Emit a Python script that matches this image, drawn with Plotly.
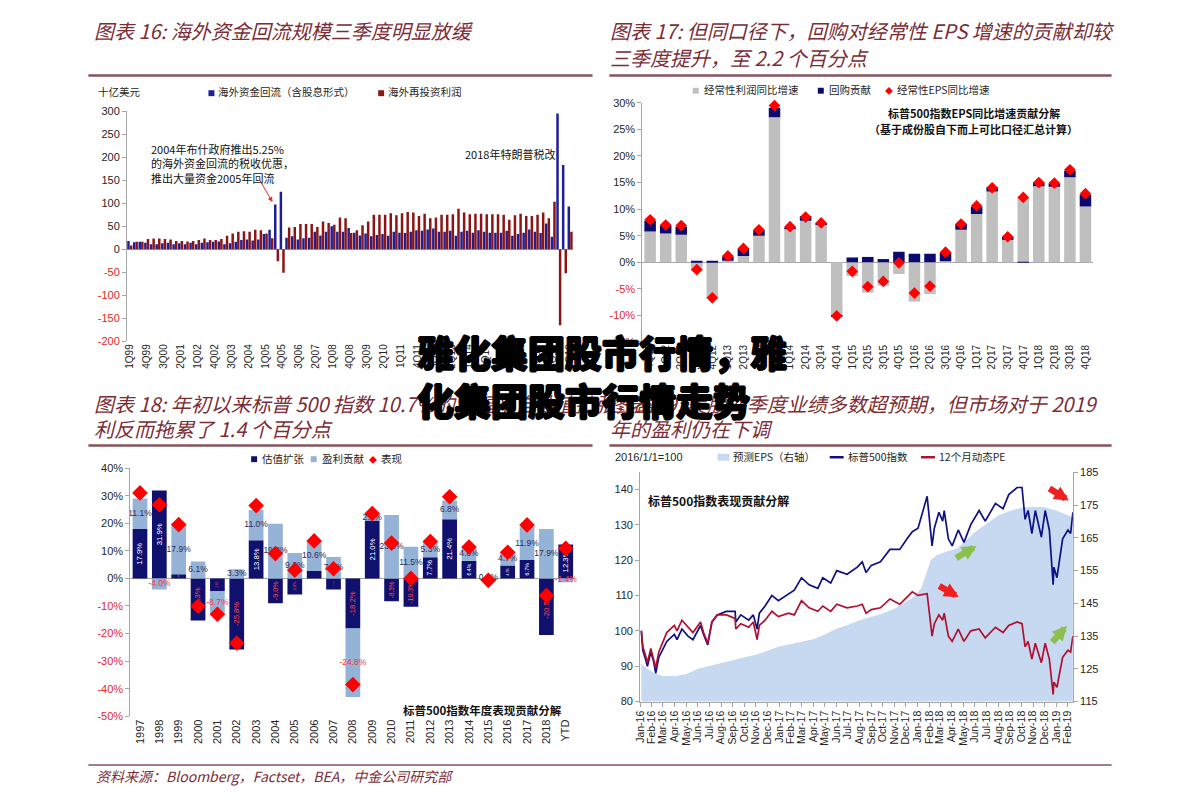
import plotly.graph_objects as go

W, H = 1191, 811
def fx(x): return x / W
def fy(y): return 1 - y / H

CN = "Noto Sans CJK SC"
NUM = "Liberation Sans, Arial, sans-serif"
TITLE_C = "#7B2D36"
TICK_C = "#262626"
AX_C = "#A6A6A6"
NEG_C = "#E02828"

# ---------------- Chart 16 data (十亿美元) ----------------
q1_labels = [
    "1Q99", "2Q99", "3Q99", "4Q99", "1Q00", "2Q00", "3Q00", "4Q00",
    "1Q01", "2Q01", "3Q01", "4Q01", "1Q02", "2Q02", "3Q02", "4Q02",
    "1Q03", "2Q03", "3Q03", "4Q03", "1Q04", "2Q04", "3Q04", "4Q04",
    "1Q05", "2Q05", "3Q05", "4Q05", "1Q06", "2Q06", "3Q06", "4Q06",
    "1Q07", "2Q07", "3Q07", "4Q07", "1Q08", "2Q08", "3Q08", "4Q08",
    "1Q09", "2Q09", "3Q09", "4Q09", "1Q10", "2Q10", "3Q10", "4Q10",
    "1Q11", "2Q11", "3Q11", "4Q11", "1Q12", "2Q12", "3Q12", "4Q12",
    "1Q13", "2Q13", "3Q13", "4Q13", "1Q14", "2Q14", "3Q14", "4Q14",
    "1Q15", "2Q15", "3Q15", "4Q15", "1Q16", "2Q16", "3Q16", "4Q16",
    "1Q17", "2Q17", "3Q17", "4Q17", "1Q18", "2Q18", "3Q18",
]
repatriation = [
    18, 15, 16, 14, 11, 11, 13, 14,
    11, 13, 11, 14, 11, 14, 15, 16,
    17, 11, 13, 16, 20, 21, 19, 21,
    33, 42, 97, 125, 25, 28, 21, 24,
    25, 38, 30, 38, 50, 38, 38, 46,
    36, 30, 34, 28, 31, 33, 29, 38,
    36, 35, 38, 41, 40, 43, 45, 38,
    38, 40, 29, 38, 40, 36, 41, 38,
    36, 36, 36, 40, 29, 33, 36, 43,
    38, 35, 56, 27, 295, 183, 93,
]
reinvested = [
    8, 16, 16, 22, 23, 23, 22, 21,
    18, 18, 17, 18, 20, 23, 20, 20,
    22, 29, 34, 38, 39, 38, 42, 41,
    34, 24, -26, -51, 47, 48, 55, 55,
    55, 48, 60, 57, 53, 69, 67, 35,
    41, 52, 60, 75, 75, 75, 78, 74,
    78, 81, 80, 72, 77, 67, 69, 75,
    75, 76, 88, 80, 76, 77, 77, 76,
    76, 76, 75, 64, 74, 77, 72, 72,
    75, 80, 67, 103, -165, -52, 38,
]

# ---------------- Chart 17 data (%) ----------------
q2_labels = ["4Q11", "1Q12", "2Q12", "3Q12", "4Q12", "1Q13", "2Q13", "3Q13", "4Q13",
             "1Q14", "2Q14", "3Q14", "4Q14", "1Q15", "2Q15", "3Q15", "4Q15",
             "1Q16", "2Q16", "3Q16", "4Q16", "1Q17", "2Q17", "3Q17", "4Q17",
             "1Q18", "2Q18", "3Q18", "4Q18"]
profit_growth = [5.8, 5.4, 5.2, -1.6, -6.8, 0.3, 1.2, 5.0, 27.3, 6.2, 7.8, 7.0, -9.9,
                 -2.6, -5.7, -4.4, -2.2, -7.4, -6.0, 0.2, 6.1, 9.1, 13.3, 4.4, 12.3,
                 14.3, 14.2, 16.0, 10.5]
buyback_contrib = [2.0, 1.5, 1.5, 0.3, 0.2, 0.8, 1.4, 1.0, 1.8, 0.4, 0.9, 0.4, -0.2,
                   0.9, 1.0, 0.6, 2.0, 1.6, 1.6, 1.6, 1.1, 1.3, 0.8, 0.35, -0.1,
                   0.7, 0.6, 1.2, 2.2]
eps_growth = [8.0, 7.0, 6.9, -1.4, -6.7, 1.2, 2.6, 6.1, 29.5, 6.7, 8.5, 7.4, -10.1,
              -1.7, -4.6, -3.6, -0.1, -5.8, -4.5, 1.9, 7.2, 10.6, 14.0, 4.8, 12.2,
              15.0, 14.9, 17.4, 12.9]

# ---------------- Chart 18 data (%) ----------------
years3 = ["1997", "1998", "1999", "2000", "2001", "2002", "2003", "2004", "2005", "2006",
          "2007", "2008", "2009", "2010", "2011", "2012", "2013", "2014", "2015", "2016",
          "2017", "2018", "YTD"]
valuation = [17.9, 31.9, 1.5, -15.3, -4.6, -25.8, 13.8, -9.0, -5.8, 2.7, -4.0, -18.2,
             21.0, -8.3, -10.3, 7.7, 21.4, 6.4, -0.8, 4.7, 6.7, -20.5, 12.3]
earnings = [11.1, -4.0, 17.9, 6.1, -8.7, 3.3, 11.0, 19.8, 9.2, 10.6, 7.8, -24.8,
            2.1, 23.0, 11.5, 5.3, 6.8, 4.8, 0.1, 4.7, 11.9, 17.9, -1.4]
performance = [31.0, 26.7, 19.5, -10.1, -13.0, -23.4, 26.4, 9.0, 3.0, 13.6, 3.5, -38.5,
               23.5, 12.8, 0.0, 13.4, 29.6, 11.4, -0.7, 9.5, 19.4, -6.2, 10.9]

# ---------------- Chart 19 data (2016/1/1=100) ----------------
line_dates = [
    "2016-01-04", "2016-01-08", "2016-01-15", "2016-01-20", "2016-01-29", "2016-02-05",
    "2016-02-11", "2016-02-19", "2016-02-26", "2016-03-11", "2016-03-31", "2016-04-07",
    "2016-04-20", "2016-05-06", "2016-05-19", "2016-06-08", "2016-06-16", "2016-06-27",
    "2016-07-08", "2016-07-22", "2016-08-15", "2016-09-07", "2016-09-09", "2016-09-22",
    "2016-10-13", "2016-10-25", "2016-11-04", "2016-11-10", "2016-11-25", "2016-12-13",
    "2016-12-30", "2017-01-26", "2017-02-10", "2017-03-01", "2017-03-21", "2017-04-13",
    "2017-04-26", "2017-05-17", "2017-06-02", "2017-06-29", "2017-07-26", "2017-08-08",
    "2017-08-18", "2017-09-01", "2017-09-25", "2017-10-20", "2017-11-15", "2017-12-04",
    "2017-12-18", "2018-01-02", "2018-01-26", "2018-02-08", "2018-02-14", "2018-02-26",
    "2018-03-08", "2018-03-12", "2018-03-23", "2018-04-02", "2018-04-18", "2018-05-03",
    "2018-05-21", "2018-06-12", "2018-06-28", "2018-07-25", "2018-08-14", "2018-08-29",
    "2018-09-20", "2018-10-03", "2018-10-11", "2018-10-19", "2018-10-29", "2018-11-07",
    "2018-11-23", "2018-12-03", "2018-12-14", "2018-12-24", "2018-12-26", "2019-01-03",
    "2019-01-18", "2019-02-01", "2019-02-08", "2019-02-14",
]
spx_index = [
    100.0, 94.5, 92.0, 90.0, 94.0, 91.5, 88.0, 92.5, 94.0, 97.0, 99.0, 97.5,
    100.5, 98.5, 97.5, 101.5, 99.0, 96.0, 102.5, 104.5, 105.5, 105.5, 102.5, 104.5,
    103.0, 104.5, 100.5, 105.0, 107.0, 110.0, 108.5, 110.5, 111.5, 115.0, 113.0, 112.0,
    115.0, 113.5, 117.0, 116.0, 118.0, 119.5, 116.5, 118.5, 119.5, 123.0, 123.0, 126.0,
    128.0, 129.0, 138.0, 124.0, 129.0, 133.5, 131.0, 134.0, 126.0, 124.0, 128.5, 125.0,
    130.0, 134.0, 131.0, 136.0, 134.5, 138.5, 140.5, 140.5, 131.5, 134.0, 127.5, 134.0,
    126.5, 134.0, 128.5, 113.0, 118.0, 115.0, 126.0, 128.5, 127.5, 133.5,
]
pe_index = [
    100.0, 95.5, 93.0, 91.0, 95.0, 92.0, 89.5, 94.0, 96.0, 99.5, 101.5, 100.0,
    103.0, 101.0, 99.5, 102.5, 99.5, 96.5, 102.5, 104.5, 104.5, 103.5, 100.5, 102.0,
    101.0, 102.5, 97.5, 101.5, 103.0, 105.5, 104.0, 105.0, 104.5, 108.5, 106.5, 105.5,
    107.0, 105.5, 107.5, 106.5, 107.0, 107.5, 105.0, 106.0, 106.5, 109.0, 107.5, 109.5,
    111.0, 110.0, 110.5, 98.5, 102.0, 104.5, 103.0, 105.0, 98.5, 97.0, 100.5, 97.0,
    100.0, 100.5, 98.0, 101.0, 99.5, 101.5, 102.5, 102.0, 95.5, 97.0, 92.0, 96.5,
    91.0, 96.5, 92.0, 82.0, 85.5, 84.0, 92.5, 94.5, 94.0, 98.5,
]
eps_dates = [
    "2016-01-04", "2016-01-20", "2016-02-10", "2016-03-01", "2016-04-01", "2016-05-01",
    "2016-06-01", "2016-07-01", "2016-08-01", "2016-09-01", "2016-10-01", "2016-11-01",
    "2016-12-01", "2017-01-01", "2017-02-01", "2017-03-01", "2017-04-01", "2017-05-01",
    "2017-06-01", "2017-07-01", "2017-08-01", "2017-09-01", "2017-10-01", "2017-11-01",
    "2017-12-01", "2017-12-20", "2018-01-10", "2018-01-25", "2018-02-05", "2018-02-20",
    "2018-03-15", "2018-04-15", "2018-05-01", "2018-06-01", "2018-07-01", "2018-08-01",
    "2018-09-01", "2018-10-01", "2018-11-01", "2018-12-01", "2019-01-01", "2019-02-01",
    "2019-02-14",
]
eps_fwd = [
    126.5, 125.0, 123.5, 122.8, 122.8, 123.3, 125.0, 125.8, 126.6, 127.6, 128.5, 129.3,
    130.5, 131.8, 132.6, 133.2, 134.0, 135.5, 137.2, 138.4, 139.8, 140.9, 141.9, 143.3,
    145.3, 146.8, 149.5, 155.0, 158.3, 159.7, 160.7, 161.7, 163.5, 166.8, 169.2, 171.8,
    173.2, 174.2, 174.5, 174.3, 173.3, 171.8, 171.3,
]

# ---------------- colours ----------------
BLUE1, RED1 = "#1E1E96", "#8C1414"
GREY2, NAVY2, DIAM = "#BFBFBF", "#0A0A70", "#FF0000"
NAVY3, LIGHT3 = "#10106E", "#95B3D7"
EPS_FILL, SPX_C, PE_C = "#C6D9F0", "#101085", "#B01030"

fig = go.Figure()

# Chart 16
x1 = list(range(len(q1_labels)))
fig.add_trace(go.Bar(x=x1, y=repatriation, xaxis="x", yaxis="y", marker_color=BLUE1,
                     marker_line_width=0, width=0.44, offset=-0.46))
fig.add_trace(go.Bar(x=x1, y=reinvested, xaxis="x5", yaxis="y", marker_color=RED1,
                     marker_line_width=0, width=0.44, offset=0.0))

# Chart 17
x2 = list(range(len(q2_labels)))
fig.add_trace(go.Bar(x=x2, y=profit_growth, xaxis="x2", yaxis="y2", marker_color=GREY2,
                     marker_line_width=0, width=0.74))
fig.add_trace(go.Bar(x=x2, y=buyback_contrib, xaxis="x2", yaxis="y2", marker_color=NAVY2,
                     marker_line_width=0, width=0.74))
fig.add_trace(go.Scatter(x=x2, y=eps_growth, xaxis="x2", yaxis="y2", mode="markers",
                         marker=dict(symbol="diamond", size=9, color=DIAM), cliponaxis=False))

# Chart 18
x3 = list(range(len(years3)))
fig.add_trace(go.Bar(
    x=x3, y=valuation, xaxis="x3", yaxis="y3", marker_color=NAVY3, marker_line_width=0,
    width=0.76, text=[f"{v:.1f}%" for v in valuation], textposition="inside",
    insidetextanchor="middle", textangle=-90, cliponaxis=False,
    textfont=dict(size=8, family=NUM, color=["#FFFFFF" if v > 0 else "#FF4A4A" for v in valuation])))
fig.add_trace(go.Bar(
    x=x3, y=earnings, xaxis="x3", yaxis="y3", marker_color=LIGHT3, marker_line_width=0,
    width=0.76))
# earnings labels at the middle of each light-blue segment
earn_mid = [(v if v * e > 0 else 0) + e / 2 for v, e in zip(valuation, earnings)]
fig.add_trace(go.Scatter(
    x=x3, y=earn_mid, xaxis="x3", yaxis="y3", mode="text",
    text=[f"{e:.1f}%" for e in earnings], cliponaxis=False,
    textfont=dict(size=8.5, family=NUM, color=["#2B2B5A" if e > 0 else "#FF3030" for e in earnings])))
fig.add_trace(go.Scatter(x=x3, y=performance, xaxis="x3", yaxis="y3", mode="markers",
                         marker=dict(symbol="diamond", size=12, color=DIAM), cliponaxis=False))

# Chart 19
fig.add_trace(go.Scatter(x=eps_dates, y=eps_fwd, xaxis="x4", yaxis="y4", mode="lines",
                         fill="tozeroy", fillcolor=EPS_FILL, line=dict(width=0, color=EPS_FILL)))
fig.add_trace(go.Scatter(x=line_dates, y=spx_index, xaxis="x4", yaxis="y6", mode="lines",
                         line=dict(color=SPX_C, width=1.7)))
fig.add_trace(go.Scatter(x=line_dates, y=pe_index, xaxis="x4", yaxis="y6", mode="lines",
                         line=dict(color=PE_C, width=1.7)))


def signed_ticks(vals, suffix=""):
    return [f"<span style='color:{NEG_C}'>{v}{suffix}</span>" if v < 0 else f"{v}{suffix}"
            for v in vals]


tickfont = dict(size=11, family=NUM, color=TICK_C)
xtickfont = dict(size=10, family=NUM, color=TICK_C)
common_y = dict(showline=True, linecolor=AX_C, linewidth=1, ticks="outside", ticklen=4,
                tickcolor=AX_C, showgrid=False, tickfont=tickfont)
common_x = dict(showgrid=False, zeroline=False, tickangle=-90, tickfont=xtickfont)

y1_vals = list(range(-200, 301, 50))
y2_vals = list(range(-15, 31, 5))
y3_vals = list(range(-50, 41, 10))

fig.update_layout(
    width=W, height=H, margin=dict(l=0, r=0, t=0, b=0),
    paper_bgcolor="white", plot_bgcolor="rgba(0,0,0,0)",
    showlegend=False, barmode="relative",
    uniformtext=dict(minsize=8, mode="show"),
    xaxis=dict(domain=[fx(120.9), fx(570.3)], range=[-0.5, 78.5], anchor="y",
               tickmode="array", tickvals=x1[::3], ticktext=q1_labels[::3],
               showline=False, ticks="", **common_x),
    xaxis5=dict(overlaying="x", range=[-0.5, 78.5], anchor="y", visible=False),
    yaxis=dict(domain=[fy(340.3), fy(106.7)], range=[-200, 300], anchor="x",
               tickmode="array", tickvals=y1_vals, ticktext=signed_ticks(y1_vals),
               zeroline=True, zerolinecolor=AX_C, zerolinewidth=1, **common_y),
    xaxis2=dict(domain=[fx(640.2), fx(1094.5)], range=[-0.5, 28.5], anchor="y2",
                tickmode="array", tickvals=x2, ticktext=q2_labels,
                showline=False, ticks="", **common_x),
    yaxis2=dict(domain=[fy(341), fy(98.3)], range=[-15, 30], anchor="x2",
                tickmode="array", tickvals=y2_vals, ticktext=signed_ticks(y2_vals, "%"),
                zeroline=True, zerolinecolor=AX_C, zerolinewidth=1, **common_y),
    xaxis3=dict(domain=[fx(124.25), fx(572.75)], range=[-0.5, 22.5], anchor="y3",
                tickmode="array", tickvals=x3, ticktext=years3,
                showline=False, ticks="", **{**common_x, "tickfont": dict(size=11, family=NUM, color=TICK_C)}),
    yaxis3=dict(domain=[fy(721), fy(469)], range=[-50, 40], anchor="x3",
                tickmode="array", tickvals=y3_vals, ticktext=signed_ticks(y3_vals, "%"),
                zeroline=True, zerolinecolor=AX_C, zerolinewidth=1, **common_y),
    xaxis4=dict(domain=[fx(638), fx(1074)], type="date", range=["2016-01-01", "2019-02-14"],
                anchor="y4", dtick="M1", tick0="2016-01-01", tickformat="%b-%y",
                showline=True, linecolor=AX_C, ticks="outside", ticklen=4, tickcolor=AX_C,
                **{**common_x, "tickfont": dict(size=10.5, family=NUM, color=TICK_C)}),
    yaxis4=dict(domain=[fy(706), fy(473.3)], range=[115, 185], anchor="x4", side="right",
                tickmode="array", tickvals=list(range(115, 186, 10)), zeroline=False, **common_y),
    yaxis6=dict(overlaying="y4", range=[80, 144.8], anchor="x4", side="left",
                tickmode="array", tickvals=list(range(80, 141, 10)), zeroline=False, **common_y),
)

ann = []
shapes = []


def text(x, y, s, size=10.5, color=TICK_C, family=CN, xanchor="left", yanchor="middle",
         weight="normal", style="normal", align="left", shadow=None):
    font = dict(size=size, color=color, family=family, weight=weight, style=style)
    if shadow:
        font["shadow"] = shadow
    ann.append(dict(x=fx(x), y=fy(y), xref="paper", yref="paper", text=s, showarrow=False,
                    xanchor=xanchor, yanchor=yanchor, align=align, font=font))


def rect(x0, x1, y0, y1, color):
    shapes.append(dict(type="rect", xref="paper", yref="paper", x0=fx(x0), x1=fx(x1),
                       y0=fy(y1), y1=fy(y0), fillcolor=color, line=dict(width=0)))


def hline(x0, x1, y, color, width):
    shapes.append(dict(type="line", xref="paper", yref="paper", x0=fx(x0), x1=fx(x1),
                       y0=fy(y), y1=fy(y), line=dict(color=color, width=width)))


# Titles
TS = 20
text(86, 25, "图表 16: 海外资金回流规模三季度明显放缓", size=TS, color=TITLE_C, style="italic")
text(606, 25, "图表 17: 但同口径下，回购对经常性 EPS 增速的贡献却较", size=TS, color=TITLE_C, style="italic")
text(606, 52, "三季度提升，至 2.2 个百分点", size=TS, color=TITLE_C, style="italic")
text(86, 403, "图表 18: 年初以来标普 500 指数 10.7%的涨幅来自估值扩张，盈", size=TS, color=TITLE_C, style="italic")
text(86, 429, "利反而拖累了 1.4 个百分点", size=TS, color=TITLE_C, style="italic")
text(606, 403, "图表 19: 美股四季度业绩多数超预期，但市场对于 2019", size=TS, color=TITLE_C, style="italic")
text(606, 429, "年的盈利仍在下调", size=TS, color=TITLE_C, style="italic")
LINE_C = "#85555C"
hline(82, 590, 70.5, LINE_C, 2.5)
hline(607, 1113, 70.5, LINE_C, 2.5)
hline(82, 590, 446, LINE_C, 2.5)
hline(607, 1113, 446, LINE_C, 2.5)
hline(82, 1113, 770.5, LINE_C, 1.5)
text(88, 782, "资料来源：Bloomberg，Factset，BEA，中金公司研究部", size=14, color=TITLE_C, style="italic")

# Chart 16 legend + notes
text(90, 87, "十亿美元", size=10.5)
rect(203, 209, 85.5, 91.5, BLUE1)
text(211, 87, "海外资金回流（含股息形式）", size=10.5)
rect(374, 380, 85.5, 91.5, RED1)
text(382, 87, "海外再投资利润", size=10.5)
text(143, 135, "2004年布什政府推出5.25%<br>的海外资金回流的税收优惠，<br>推出大量资金2005年回流",
     size=11, color="#111111", yanchor="top")
text(459, 150, "2018年特朗普税改", size=11, color="#111111")
ann.append(dict(x=fx(267.5), y=fy(199), xref="paper", yref="paper", ax=-14, ay=-24,
                showarrow=True, arrowhead=2, arrowsize=1, arrowwidth=1, arrowcolor="#E03030", text=""))

# Chart 17 legend + notes
rect(691, 697, 83, 89, GREY2)
text(700, 85, "经常性利润同比增速", size=10.5)
rect(817, 823, 83, 89, NAVY2)
text(826, 85, "回购贡献", size=10.5)
text(889, 86, "◆", size=8, color=DIAM, xanchor="center")
text(895, 85, "经常性EPS同比增速", size=10.5)
text(974, 109, "<b>标普500指数EPS同比增速贡献分解</b>", size=11, color="#111111", xanchor="center")
text(974, 125, "<b>（基于成份股自下而上可比口径汇总计算）</b>", size=11, color="#111111", xanchor="center")

# Chart 18 legend + note
rect(246, 252, 457, 463, NAVY3)
text(255, 459, "估值扩张", size=10.5)
rect(306, 312, 457, 463, LIGHT3)
text(315, 459, "盈利贡献", size=10.5)
text(369, 460, "◆", size=8, color=DIAM, xanchor="center")
text(375, 459, "表现", size=10.5)
text(479, 715, "<b>标普500指数年度表现贡献分解</b>", size=11.5, color="#111111", xanchor="center")

# Chart 19 legend + note + arrows
text(611, 458, "2016/1/1=100", size=11, family=NUM)
rect(716, 728, 454.5, 461.5, EPS_FILL)
text(730, 457, "预测EPS（右轴）", size=10.5)
hline(829, 843, 458, SPX_C, 2.5)
text(845, 457, "标普500指数", size=10.5)
hline(921, 935, 458, PE_C, 2.5)
text(937, 457, "12个月动态PE", size=10.5)
text(644, 502, "<b>标普500指数表现贡献分解</b>", size=12, color="#111111")


def block_arrow(x_tail, y_tail, x_head, y_head, color):
    ann.append(dict(x=fx(x_head), y=fy(y_head), xref="paper", yref="paper",
                    ax=x_tail - x_head, ay=y_tail - y_head, showarrow=True, arrowhead=2,
                    arrowsize=0.45, arrowwidth=6.5, arrowcolor=color, text=""))


block_arrow(1049, 489, 1070, 502, "#F02020")
block_arrow(955, 561, 977, 548, "#8DBF4F")
block_arrow(938, 588, 959, 600, "#F02020")
block_arrow(1052, 647, 1068, 629, "#8DBF4F")

# Overlay headline text
SH = "1px 0 0 #000, -1px 0 0 #000, 0 1px 0 #000, 0 -1px 0 #000"
text(411, 351, "雅化集团股市行情，雅", size=37, color="#000000", weight=900, shadow=SH)
text(411, 400, "化集团股市行情走势", size=37, color="#000000", weight=900, shadow=SH)

fig.update_layout(annotations=ann, shapes=shapes)
fig.write_html("out.html")
